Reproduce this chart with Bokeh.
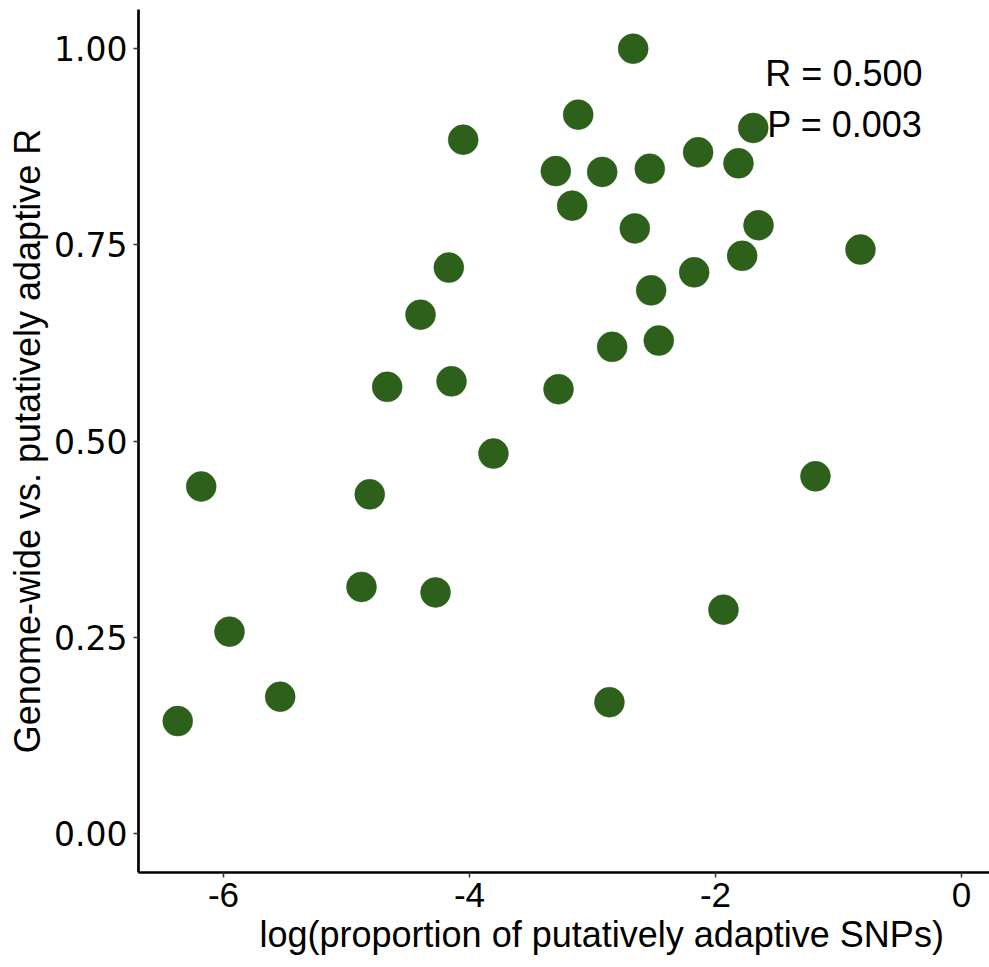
from bokeh.plotting import figure
from bokeh.models import Range1d, FixedTicker, ColumnDataSource, Title
from bokeh.embed import file_html
from bokeh.resources import INLINE
from bokeh.core.properties import value

# log proportion of putatively adaptive SNPs per population
log_prop = [-6.372, -6.181, -5.951, -5.539, -4.878, -4.811, -4.669, -4.398,
            -4.276, -4.168, -4.146, -4.051, -3.805, -3.276, -3.298, -3.165,
            -3.116, -2.921, -2.840, -2.862, -2.669, -2.656, -2.534, -2.523,
            -2.461, -2.173, -2.141, -1.935, -1.813, -1.783, -1.693, -1.650,
            -1.187, -0.821]
# correlation between genome-wide and putatively adaptive SNP sets
gw_vs_adaptive_r = [0.143, 0.442, 0.257, 0.174, 0.314, 0.432, 0.569, 0.661,
                    0.307, 0.721, 0.576, 0.884, 0.484, 0.566, 0.844, 0.800,
                    0.916, 0.843, 0.620, 0.167, 1.000, 0.771, 0.847, 0.692,
                    0.628, 0.715, 0.868, 0.285, 0.854, 0.736, 0.899, 0.775,
                    0.455, 0.744]

x_ticks = [-6, -4, -2, 0]
x_tick_labels = ["-6", "-4", "-2", "0"]
y_ticks = [0.0, 0.25, 0.5, 0.75, 1.0]
y_tick_labels = ["0.00", "0.25", "0.50", "0.75", "1.00"]

stats_text = ["R = 0.500", "P = 0.003"]
x_title = "log(proportion of putatively adaptive SNPs)"
y_title = "Genome-wide vs. putatively adaptive R"

FONT = "Liberation Sans"
POINT_COLOR = "#2c601b"

p = figure(width=989, height=967, output_backend="svg", toolbar_location=None,
           x_range=Range1d(-6.691, 0.228), y_range=Range1d(-0.05, 1.05),
           min_border_left=138, min_border_right=0,
           min_border_top=9, min_border_bottom=95)

p.background_fill_color = "white"
p.border_fill_color = "white"
p.outline_line_color = None
p.xgrid.visible = False
p.ygrid.visible = False

src = ColumnDataSource(dict(x=log_prop, y=gw_vs_adaptive_r))
p.scatter("x", "y", source=src, size=30, fill_color=POINT_COLOR,
          line_color=POINT_COLOR, line_width=0.5)

p.text(x=[-0.317, -0.317], y=[0.969, 0.904], text=stats_text,
       text_font=value(FONT), text_font_size="36px", text_color="black",
       text_align="right", text_baseline="alphabetic")

for ax, ticks, labels in ((p.xaxis[0], x_ticks, x_tick_labels),
                          (p.yaxis[0], y_ticks, y_tick_labels)):
    ax.ticker = FixedTicker(ticks=ticks)
    ax.major_label_overrides = {t: l for t, l in zip(ticks, labels)}
    ax.minor_tick_line_color = None
    ax.axis_line_width = 2.7
    ax.axis_line_color = "black"
    ax.major_tick_line_color = "#333333"
    ax.major_tick_line_width = 1.5
    ax.major_tick_out = 5
    ax.major_tick_in = 0
    ax.major_label_text_color = "black"

p.xaxis.major_label_text_font = FONT
p.xaxis.major_label_text_font_size = "35px"
p.yaxis.major_label_text_font = "DejaVu Sans"
p.yaxis.major_label_text_font_size = "33px"
p.xaxis.major_label_standoff = 5
p.yaxis.major_label_standoff = 6

p.yaxis.axis_label = y_title
p.yaxis.axis_label_text_font = FONT
p.yaxis.axis_label_text_font_size = "36px"
p.yaxis.axis_label_text_font_style = "normal"
p.yaxis.axis_label_text_color = "black"
p.yaxis.axis_label_standoff = 3

# x-axis title, placed as its own panel below the tick labels
p.add_layout(Title(text=x_title, align="left", offset=121,
                   vertical_align="top", standoff=8,
                   text_font=FONT, text_font_size="36px",
                   text_font_style="normal", text_color="black"), "below")

open("out.html", "w").write(file_html(p, INLINE))
